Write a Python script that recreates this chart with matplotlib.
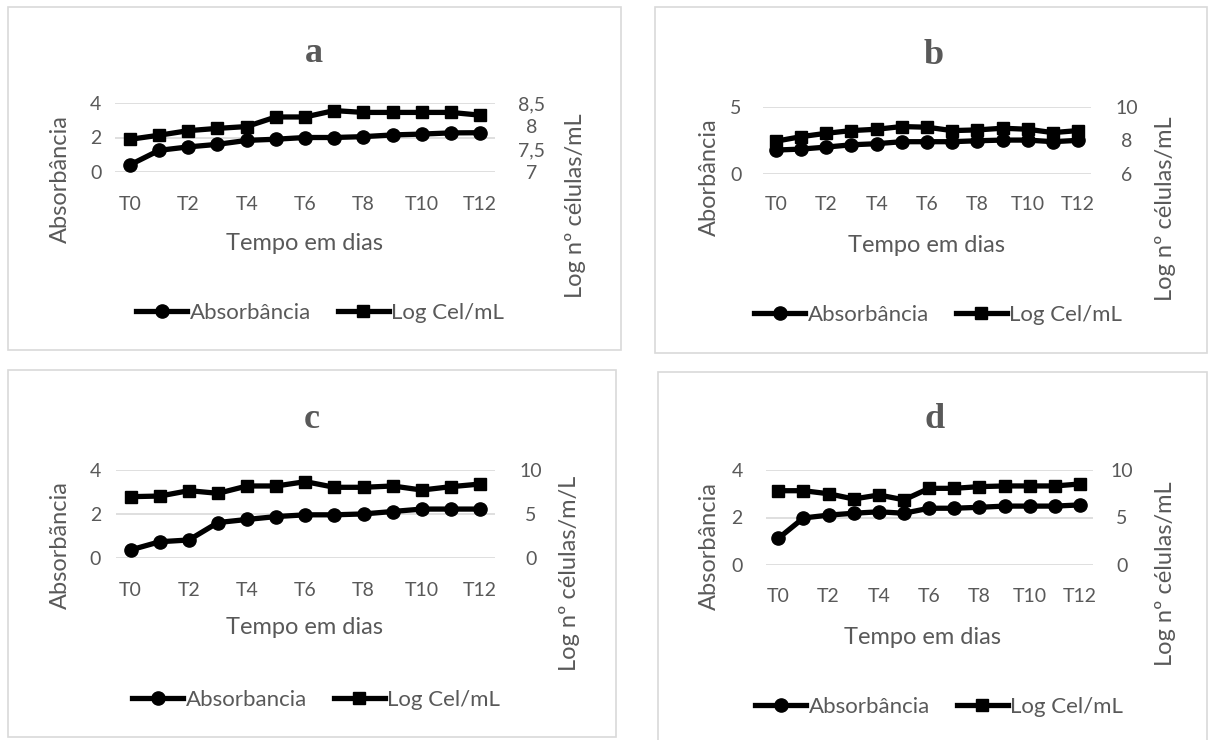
import matplotlib
matplotlib.use("Agg")
import matplotlib.pyplot as plt
from matplotlib.patches import Rectangle
from matplotlib.lines import Line2D

# ---------------- data ----------------
days = ["T0", "T1", "T2", "T3", "T4", "T5", "T6", "T7", "T8", "T9", "T10", "T11", "T12"]

a_abs = [0.40, 1.25, 1.45, 1.60, 1.83, 1.90, 2.00, 2.00, 2.05, 2.15, 2.20, 2.27, 2.28]
a_log = [7.71, 7.80, 7.90, 7.95, 7.99, 8.20, 8.20, 8.34, 8.30, 8.30, 8.30, 8.30, 8.24]

b_abs = [1.78, 1.85, 2.00, 2.17, 2.25, 2.40, 2.40, 2.40, 2.47, 2.52, 2.52, 2.40, 2.50]
b_log = [7.95, 8.22, 8.42, 8.58, 8.66, 8.82, 8.78, 8.58, 8.62, 8.72, 8.66, 8.46, 8.58]

c_abs = [0.38, 0.75, 0.83, 1.62, 1.76, 1.89, 1.97, 1.97, 2.01, 2.12, 2.23, 2.23, 2.23]
c_log = [6.98, 7.05, 7.66, 7.36, 8.19, 8.19, 8.68, 8.04, 8.04, 8.19, 7.73, 8.11, 8.41]

d_abs = [1.12, 1.98, 2.10, 2.18, 2.24, 2.18, 2.39, 2.39, 2.43, 2.48, 2.48, 2.48, 2.53]
d_log = [7.82, 7.82, 7.50, 6.95, 7.37, 6.86, 8.07, 8.07, 8.25, 8.32, 8.32, 8.32, 8.53]

titles = ["a", "b", "c", "d"]
left_labels = ["Absorbância", "Aborbância", "Absorbãncia", "Absorbância"]
right_labels = ["Log nº células/mL", "Log nº células/mL", "Log nº células/m/L", "Log nº células/mL"]
abs_legend = ["Absorbância", "Absorbância", "Absorbancia", "Absorbância"]
log_legend = ["Log Cel/mL", "Log Cel/mL", "Log Cel/mL", "Log Cel/mL"]
x_title = "Tempo em dias"

left_ticks = [[0, 2, 4], [0, 5], [0, 2, 4], [0, 2, 4]]
right_ticks = [[7, 7.5, 8, 8.5], [6, 8, 10], [0, 5, 10], [0, 5, 10]]
right_tick_labels = [["7", "7,5", "8", "8,5"], ["6", "8", "10"], ["0", "5", "10"], ["0", "5", "10"]]

abs_series = [a_abs, b_abs, c_abs, d_abs]
log_series = [a_log, b_log, c_log, d_log]

# ---------------- layout (pixels) ----------------
W, H = 1213, 740
FONT = ["Lato", "DejaVu Sans"]
GRAY = "#595959"
GRID = "#d9d9d9"

layouts = [
    dict(box=(8, 7, 621, 350), plot=(115.4, 103.3, 494.6, 171.7), title=(314, 53),
         ylab=(60, 179), rlab=(575, 206), xlab=(305, 243), xtick=205, leg=(320, 313),
         lpad=14, rpad=37),
    dict(box=(655, 7, 1207, 353), plot=(763.4, 106.7, 1090.6, 174.0), title=(934, 55),
         ylab=(709, 177), rlab=(1166, 209), xlab=(927, 245), xtick=205, leg=(938, 315),
         lpad=22, rpad=36),
    dict(box=(8, 370, 616, 737), plot=(116.1, 470.0, 494.6, 558.3), title=(312, 420),
         ylab=(60, 545), rlab=(570, 573), xlab=(305, 628), xtick=590, leg=(316, 700),
         lpad=15, rpad=36),
    dict(box=(658, 372, 1207, 745), plot=(765.7, 470.0, 1092.6, 565.0), title=(935, 420),
         ylab=(709, 546), rlab=(1166, 574), xlab=(923, 637), xtick=597, leg=(939, 707),
         lpad=23, rpad=29),
]

PX = 72.0 / 100.0  # pixels -> points
LW = 3.8
MS_O = 9.5
MS_S = 9.0


def fx(x):
    return x / W


def fy(y):
    return 1 - y / H


fig = plt.figure(figsize=(W / 100, H / 100), dpi=100)
fig.patch.set_facecolor("white")

for i, lay in enumerate(layouts):
    bx0, by0, bx1, by1 = lay["box"]
    fig.patches.append(Rectangle((fx(bx0), fy(by1)), (bx1 - bx0) / W, (by1 - by0) / H,
                                 transform=fig.transFigure, fill=False,
                                 edgecolor=GRID, linewidth=1.2))
    x0, y0, x1, y1 = lay["plot"]
    ax = fig.add_axes([fx(x0), fy(y1), (x1 - x0) / W, (y1 - y0) / H])
    ax2 = ax.twinx()
    for a in (ax, ax2):
        for s in a.spines.values():
            s.set_visible(False)
        a.patch.set_alpha(0)
    ax.set_xlim(-0.5, 12.5)
    lt = left_ticks[i]
    ax.set_ylim(lt[0], lt[-1])
    rt = right_ticks[i]
    ax2.set_ylim(rt[0], rt[-1])
    ax.set_yticks(lt)
    ax.set_yticklabels([str(v) for v in lt])
    ax2.set_yticks(rt)
    ax2.set_yticklabels(right_tick_labels[i])
    ax.set_xticks(range(0, 13, 2))
    ax.set_xticklabels(days[0::2])
    ax.yaxis.grid(True, color=GRID, linewidth=1.2)
    ax.set_axisbelow(True)
    ax.tick_params(axis="both", length=0, labelsize=14, labelcolor=GRAY)
    ax2.tick_params(axis="both", length=0, labelsize=14, labelcolor=GRAY)
    ax.tick_params(axis="x", pad=(lay["xtick"] - y1) * PX)
    ax.tick_params(axis="y", pad=lay["lpad"] * PX)
    ax2.tick_params(axis="y", pad=lay["rpad"] * PX)
    for lbl in ax.get_xticklabels():
        lbl.set_verticalalignment("center")
        lbl.set_family(FONT)
    for lbl in ax.get_yticklabels():
        lbl.set_family(FONT)
    for lbl in ax2.get_yticklabels():
        lbl.set_horizontalalignment("center")
        lbl.set_family(FONT)

    x = list(range(len(days)))
    ax.plot(x, abs_series[i], color="black", linewidth=LW, marker="o",
            markersize=MS_O, clip_on=False, zorder=3)
    ax2.plot(x, log_series[i], color="black", linewidth=LW, marker="s",
             markersize=MS_S, clip_on=False, zorder=3)

    fig.text(fx(lay["title"][0]), fy(lay["title"][1]), titles[i], ha="center", va="center",
             fontsize=26, fontweight="bold", color=GRAY, family="Liberation Serif")
    fig.text(fx(lay["ylab"][0]), fy(lay["ylab"][1]), left_labels[i], rotation=90,
             ha="center", va="center", fontsize=17, color=GRAY, family=FONT)
    fig.text(fx(lay["rlab"][0]), fy(lay["rlab"][1]), right_labels[i], rotation=90,
             ha="center", va="center", fontsize=17, color=GRAY,
             family=["Open Sans", "DejaVu Sans"] if False else FONT)
    fig.text(fx(lay["xlab"][0]), fy(lay["xlab"][1]), x_title,
             ha="center", va="center", fontsize=17, color=GRAY, family=FONT)

    h1 = Line2D([], [], color="black", linewidth=LW, marker="o", markersize=MS_O)
    h2 = Line2D([], [], color="black", linewidth=LW, marker="s", markersize=MS_S)
    leg = fig.legend([h1, h2], [abs_legend[i], log_legend[i]], loc="center",
                     bbox_to_anchor=(fx(lay["leg"][0]), fy(lay["leg"][1])),
                     bbox_transform=fig.transFigure, ncol=2, frameon=False,
                     handlelength=2.3, handletextpad=0.1, columnspacing=1.2,
                     prop={"family": FONT, "size": 16}, borderpad=0, borderaxespad=0)
    for t in leg.get_texts():
        t.set_color(GRAY)

fig.savefig("out.png", dpi=100, facecolor="white")
